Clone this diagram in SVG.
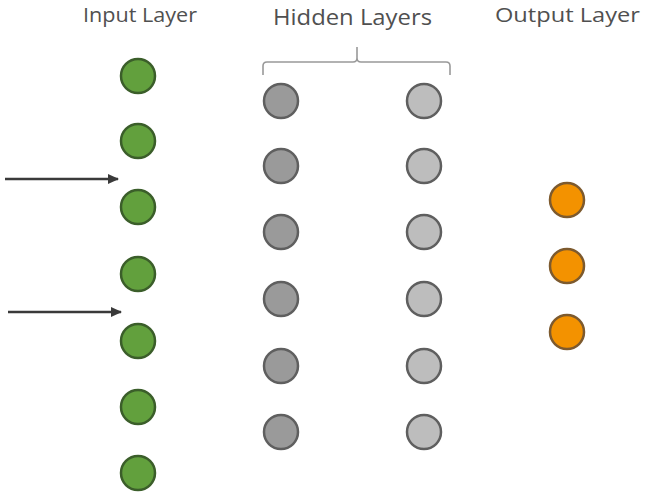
<svg xmlns="http://www.w3.org/2000/svg" width="647" height="498" viewBox="0 0 647 498">
<style>
.t{font-family:"Open Sans","Noto Sans",sans-serif;fill:#505050;text-anchor:start}
.in{fill:#62a03d;stroke:#3b5e2a;stroke-width:2.5}
.h1{fill:#9a9a9a;stroke:#5f5f5f;stroke-width:2.5}
.h2{fill:#bdbdbd;stroke:#5f5f5f;stroke-width:2.5}
.out{fill:#f39200;stroke:#7d5a2e;stroke-width:2.5}
.ar{stroke:#3a3a3a;stroke-width:2.4;fill:none}
.br{stroke:#999;stroke-width:1.6;fill:none}
</style>
<defs>
<marker id="ah" markerWidth="12" markerHeight="12" refX="10" refY="6" orient="auto" markerUnits="userSpaceOnUse">
<path d="M0,1 L11,6 L0,11 Z" fill="#3a3a3a"/>
</marker>
</defs>
<g id="labels">
<text class="t" x="83" y="22" font-size="20" textLength="114" lengthAdjust="spacingAndGlyphs">Input Layer</text>
<text class="t" x="273" y="25" font-size="21" textLength="159" lengthAdjust="spacingAndGlyphs">Hidden Layers</text>
<text class="t" x="495" y="22" font-size="20" textLength="145" lengthAdjust="spacingAndGlyphs">Output Layer</text>
</g>
<g id="brace"><path class="br" d="M263,75 V66 Q263,62 267,62 H353 Q357,62 357,58 V47 M357,58 Q357,62 361,62 H446 Q450,62 450,66 V75"/></g>
<g id="input">
<circle class="in" cx="138" cy="76" r="17"/>
<circle class="in" cx="138" cy="141" r="17"/>
<circle class="in" cx="138" cy="207" r="17"/>
<circle class="in" cx="138" cy="274" r="17"/>
<circle class="in" cx="138" cy="341" r="17"/>
<circle class="in" cx="138" cy="407" r="17"/>
<circle class="in" cx="138" cy="473" r="17"/>
</g>
<g id="hidden1">
<circle class="h1" cx="281" cy="101" r="17"/>
<circle class="h1" cx="281" cy="166" r="17"/>
<circle class="h1" cx="281" cy="232" r="17"/>
<circle class="h1" cx="281" cy="299" r="17"/>
<circle class="h1" cx="281" cy="366" r="17"/>
<circle class="h1" cx="281" cy="432" r="17"/>
</g>
<g id="hidden2">
<circle class="h2" cx="424" cy="101" r="17"/>
<circle class="h2" cx="424" cy="166" r="17"/>
<circle class="h2" cx="424" cy="232" r="17"/>
<circle class="h2" cx="424" cy="299" r="17"/>
<circle class="h2" cx="424" cy="366" r="17"/>
<circle class="h2" cx="424" cy="432" r="17"/>
</g>
<g id="output">
<circle class="out" cx="567" cy="200" r="17"/>
<circle class="out" cx="567" cy="266" r="17"/>
<circle class="out" cx="567" cy="332" r="17"/>
</g>
<g id="connectors">
<line class="ar" x1="5" y1="179" x2="118" y2="179" marker-end="url(#ah)"/>
<line class="ar" x1="8" y1="312" x2="121" y2="312" marker-end="url(#ah)"/>
</g>
</svg>
